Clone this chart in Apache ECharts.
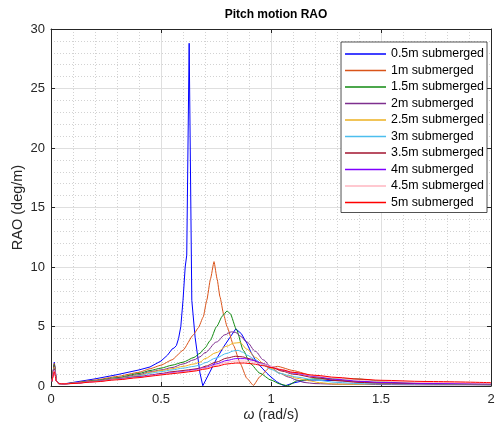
<!DOCTYPE html>
<html>
<head>
<meta charset="utf-8">
<script src="https://cdn.jsdelivr.net/npm/echarts@6/dist/echarts.min.js"></script>
<style>
  html, body { margin: 0; padding: 0; background: #fff; }
  #chart { width: 500px; height: 429px; }
</style>
</head>
<body>
<div id="chart"></div>
<script>
// Pitch RAO curves, [omega (rad/s), RAO (deg/m)] for each submergence depth
const sub05 = [[0.005,0.4],[0.015,2.0],[0.025,0.45],[0.035,0.22],[0.06,0.18],[0.1,0.3],[0.2,0.6],[0.3,0.95],[0.4,1.35],[0.45,1.6],[0.5,2.1],[0.53,2.6],[0.55,3.1],[0.56,3.2],[0.57,3.4],[0.58,4.0],[0.59,5.0],[0.6,7.2],[0.61,10.0],[0.617,11.0],[0.628,28.8],[0.64,7.2],[0.655,4.1],[0.677,1.1],[0.69,0.02],[0.72,1.1],[0.753,2.3],[0.785,3.3],[0.814,4.1],[0.84,4.8],[0.865,4.4],[0.89,3.6],[0.91,2.8],[0.935,2.0],[0.96,1.5],[0.98,1.1],[1.0,0.75],[1.026,0.36],[1.05,0.1],[1.065,0.02],[1.1,0.25],[1.15,0.45],[1.2,0.5],[1.3,0.45],[1.4,0.38],[1.5,0.3],[1.7,0.2],[2.0,0.15]];
const sub10 = [[0.005,0.4],[0.015,1.9],[0.025,0.42],[0.035,0.21],[0.06,0.18],[0.1,0.26],[0.2,0.5],[0.3,0.8],[0.4,1.15],[0.45,1.45],[0.5,1.75],[0.55,2.2],[0.6,3.0],[0.647,4.3],[0.67,4.9],[0.692,5.8],[0.708,7.2],[0.725,9.0],[0.741,10.45],[0.755,9.0],[0.768,7.5],[0.785,6.0],[0.8,5.0],[0.83,3.4],[0.86,1.9],[0.89,0.65],[0.92,0.05],[0.95,0.8],[0.99,1.5],[1.03,1.65],[1.1,1.3],[1.2,0.8],[1.3,0.5],[1.4,0.35],[1.5,0.25],[1.7,0.2],[2.0,0.15]];
const sub15 = [[0.005,0.4],[0.015,1.8],[0.025,0.4],[0.035,0.2],[0.06,0.18],[0.1,0.24],[0.2,0.45],[0.3,0.7],[0.4,1.05],[0.45,1.3],[0.5,1.5],[0.55,1.75],[0.6,2.0],[0.65,2.4],[0.677,2.75],[0.7,3.2],[0.723,3.8],[0.753,5.0],[0.78,5.9],[0.8,6.3],[0.814,6.1],[0.844,4.7],[0.874,3.0],[0.905,1.9],[0.95,1.07],[1.0,0.5],[1.04,0.17],[1.075,0.02],[1.12,0.45],[1.2,0.6],[1.3,0.62],[1.4,0.58],[1.5,0.4],[1.6,0.25],[1.8,0.15],[2.0,0.1]];
const sub20 = [[0.005,0.4],[0.015,1.7],[0.025,0.4],[0.035,0.2],[0.06,0.18],[0.1,0.23],[0.2,0.42],[0.3,0.65],[0.4,0.95],[0.45,1.2],[0.5,1.35],[0.55,1.55],[0.6,1.85],[0.65,2.2],[0.677,2.45],[0.7,2.8],[0.753,3.7],[0.79,4.3],[0.82,4.55],[0.84,4.5],[0.86,4.2],[0.89,3.7],[0.93,2.9],[0.965,2.2],[1.0,1.6],[1.04,1.07],[1.08,0.75],[1.117,0.5],[1.15,0.3],[1.2,0.2],[1.3,0.15],[1.4,0.15],[1.5,0.12],[1.7,0.1],[2.0,0.1]];
const sub25 = [[0.005,0.4],[0.015,1.6],[0.025,0.4],[0.035,0.2],[0.06,0.18],[0.1,0.22],[0.2,0.4],[0.3,0.62],[0.4,0.88],[0.45,1.15],[0.5,1.3],[0.55,1.45],[0.6,1.65],[0.65,1.85],[0.677,2.0],[0.7,2.3],[0.75,2.8],[0.8,3.35],[0.83,3.6],[0.86,3.65],[0.89,3.1],[0.93,2.4],[0.965,1.9],[1.0,1.5],[1.04,1.07],[1.08,0.85],[1.117,0.65],[1.17,0.45],[1.22,0.28],[1.3,0.15],[1.4,0.15],[1.5,0.2],[1.7,0.2],[2.0,0.15]];
const sub30 = [[0.005,0.4],[0.015,1.5],[0.025,0.4],[0.035,0.2],[0.06,0.18],[0.1,0.22],[0.2,0.4],[0.3,0.6],[0.4,0.85],[0.45,1.07],[0.5,1.2],[0.55,1.35],[0.6,1.5],[0.65,1.65],[0.677,1.76],[0.7,1.95],[0.75,2.35],[0.8,2.75],[0.83,2.95],[0.85,3.0],[0.87,2.85],[0.89,2.6],[0.93,2.2],[0.965,1.76],[1.0,1.4],[1.04,1.07],[1.08,0.9],[1.117,0.75],[1.2,0.5],[1.3,0.3],[1.4,0.2],[1.5,0.18],[1.7,0.18],[2.0,0.15]];
const sub35 = [[0.005,0.4],[0.015,1.45],[0.025,0.4],[0.035,0.2],[0.06,0.18],[0.1,0.22],[0.2,0.38],[0.3,0.58],[0.4,0.78],[0.45,0.92],[0.5,1.05],[0.55,1.2],[0.6,1.3],[0.65,1.42],[0.677,1.5],[0.7,1.65],[0.75,2.0],[0.8,2.35],[0.84,2.5],[0.87,2.45],[0.9,2.3],[0.95,1.95],[1.0,1.6],[1.05,1.25],[1.1,1.0],[1.2,0.7],[1.3,0.45],[1.4,0.3],[1.5,0.25],[1.7,0.2],[2.0,0.17]];
const sub40 = [[0.005,0.4],[0.015,1.35],[0.025,0.4],[0.035,0.2],[0.06,0.18],[0.1,0.22],[0.2,0.37],[0.3,0.56],[0.4,0.75],[0.45,0.88],[0.5,1.0],[0.55,1.12],[0.6,1.22],[0.65,1.35],[0.7,1.55],[0.75,1.85],[0.8,2.15],[0.84,2.3],[0.88,2.3],[0.92,2.15],[0.96,1.9],[1.0,1.65],[1.05,1.35],[1.1,1.1],[1.2,0.8],[1.3,0.55],[1.4,0.4],[1.5,0.3],[1.7,0.22],[2.0,0.18]];
const sub45 = [[0.005,0.4],[0.015,1.3],[0.025,0.4],[0.035,0.2],[0.06,0.18],[0.1,0.22],[0.2,0.36],[0.3,0.55],[0.4,0.72],[0.45,0.85],[0.5,0.97],[0.55,1.08],[0.6,1.18],[0.65,1.3],[0.7,1.5],[0.75,1.75],[0.8,2.0],[0.84,2.1],[0.88,2.1],[0.92,2.0],[0.96,1.85],[1.0,1.65],[1.05,1.4],[1.1,1.15],[1.2,0.85],[1.3,0.65],[1.4,0.5],[1.5,0.4],[1.7,0.3],[2.0,0.22]];
const sub50 = [[0.005,0.4],[0.015,1.2],[0.025,0.4],[0.035,0.2],[0.06,0.18],[0.1,0.21],[0.2,0.35],[0.3,0.52],[0.4,0.7],[0.45,0.82],[0.5,0.93],[0.55,1.03],[0.6,1.13],[0.65,1.25],[0.7,1.42],[0.75,1.65],[0.8,1.85],[0.84,1.93],[0.88,1.93],[0.92,1.85],[0.96,1.72],[1.0,1.55],[1.05,1.35],[1.1,1.15],[1.2,0.9],[1.3,0.72],[1.4,0.58],[1.5,0.48],[1.7,0.38],[2.0,0.28]];

const seriesNames = ['0.5m submerged','1m submerged','1.5m submerged','2m submerged','2.5m submerged','3m submerged','3.5m submerged','4m submerged','4.5m submerged','5m submerged'];
const seriesData = [sub05, sub10, sub15, sub20, sub25, sub30, sub35, sub40, sub45, sub50];
const seriesColors = ['#0000ff','#d95319','#108a10','#7e2f8e','#edb120','#4dbeee','#a2142f','#7f00ff','#ffb6c1','#ff0000'];
const smoothing = [0, 0.15, 0.2, 0.3, 0.3, 0.3, 0.3, 0.3, 0.3, 0.3];

const xTicks = ['0', '0.5', '1', '1.5', '2'];

const FONT = 'Liberation Sans, Arial, Helvetica, sans-serif';
const INK = '#262626';

const chart = echarts.init(document.getElementById('chart'), null, { renderer: 'canvas' });

const baseX = {
  type: 'value', min: 0, max: 2, interval: 0.5,
  axisLine: { show: true, onZero: false, lineStyle: { color: INK, width: 1 } },
  axisTick: { show: true, inside: true, length: 4, lineStyle: { color: INK } },
  splitLine: { show: false },
  minorTick: { show: false, splitNumber: 5 },
  minorSplitLine: { show: false }
};
const baseY = {
  type: 'value', min: 0, max: 30, interval: 5,
  axisLine: { show: true, onZero: false, lineStyle: { color: INK, width: 1 } },
  axisTick: { show: true, inside: true, length: 4, lineStyle: { color: INK } },
  splitLine: { show: false },
  minorTick: { show: false, splitNumber: 5 },
  minorSplitLine: { show: false }
};

chart.setOption({
  animation: false,
  backgroundColor: '#ffffff',
  textStyle: { fontFamily: FONT },
  title: {
    text: 'Pitch motion RAO',
    left: 271, top: 4, textAlign: 'center',
    textStyle: { fontFamily: FONT, fontSize: 12, fontWeight: 'bold', color: '#000' }
  },
  grid: { left: 51, right: 9, top: 29, bottom: 43, containLabel: false },
  legend: {
    orient: 'vertical', right: 13, top: 42, align: 'left',
    data: seriesNames,
    icon: 'rect',
    itemWidth: 41, itemHeight: 1.5, itemGap: 2.5,
    padding: [5, 3, 3, 4],
    backgroundColor: '#ffffff', borderColor: INK, borderWidth: 0.8,
    textStyle: { fontFamily: FONT, fontSize: 12.4, color: '#000', lineHeight: 14 }
  },
  xAxis: [
    Object.assign({}, baseX, {
      position: 'bottom',
      name: '{i|ω} (rad/s)', nameLocation: 'middle', nameGap: 22, nameMoveOverlap: false,
      nameTextStyle: { fontFamily: FONT, fontSize: 14, color: INK, rich: { i: { fontStyle: 'italic', fontFamily: FONT, fontSize: 14, color: INK } } },
      axisLabel: { show: true, color: INK, fontSize: 13, fontFamily: FONT, margin: 7,
        formatter: v => xTicks[Math.round(v / 0.5)] },
      splitLine: { show: true, lineStyle: { color: '#dfdfdf', width: 1 } },
      minorSplitLine: { show: true, lineStyle: { color: '#d2d2d2', width: 1, type: [1, 2] } }
    }),
    Object.assign({}, baseX, { position: 'top', axisLabel: { show: false } })
  ],
  yAxis: [
    Object.assign({}, baseY, {
      position: 'left',
      name: 'RAO (deg/m)', nameLocation: 'middle', nameGap: 26, nameMoveOverlap: false,
      nameTextStyle: { fontFamily: FONT, fontSize: 14.5, color: INK },
      axisLabel: { show: true, color: INK, fontSize: 13, fontFamily: FONT, margin: 6 },
      splitLine: { show: true, lineStyle: { color: '#dfdfdf', width: 1 } },
      minorSplitLine: { show: true, lineStyle: { color: '#d2d2d2', width: 1, type: [1, 2] } }
    }),
    Object.assign({}, baseY, { position: 'right', axisLabel: { show: false } })
  ],
  series: seriesNames.map((name, i) => ({
    name: name,
    type: 'line',
    xAxisIndex: 0, yAxisIndex: 0,
    data: seriesData[i],
    symbol: 'none',
    smooth: smoothing[i],
    smoothMonotone: 'x',
    clip: true,
    color: seriesColors[i],
    lineStyle: { width: 1, color: seriesColors[i] }
  }))
});
</script>
</body>
</html>
